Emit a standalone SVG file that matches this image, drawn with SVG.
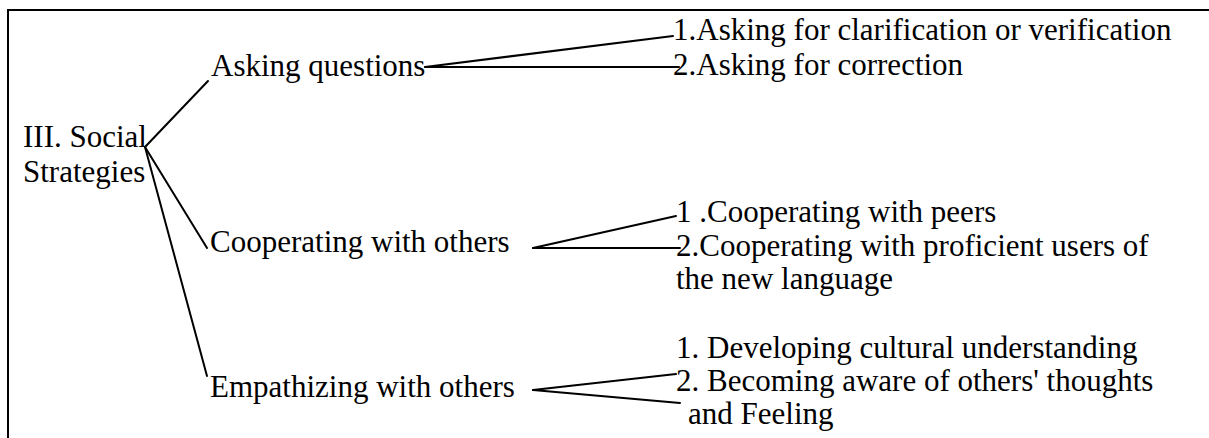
<svg xmlns="http://www.w3.org/2000/svg" width="1209" height="438" viewBox="0 0 1209 438">
  <style>
    text { font-family: 'Liberation Serif', 'Times New Roman', Times, serif; font-size: 31px; fill: #000; }
    .ln { stroke: #000; stroke-width: 2; fill: none; stroke-linecap: round; }
    .frame { stroke: #000; stroke-width: 2; fill: none; }
  </style>
  <rect width="1209" height="438" fill="#fff"/>

  <!-- frame: top and left edges -->
  <path class="frame" d="M8,438 V10 H1209"/>

  <g id="connectors">
    <!-- root to the three strategy groups -->
    <line class="ln" x1="145" y1="147" x2="208" y2="81"/>
    <line class="ln" x1="145" y1="147" x2="207" y2="248"/>
    <line class="ln" x1="145" y1="147" x2="207" y2="376"/>
    <!-- Asking questions -->
    <line class="ln" x1="425" y1="67" x2="673" y2="36"/>
    <line class="ln" x1="425" y1="67" x2="679" y2="67"/>
    <!-- Cooperating with others -->
    <line class="ln" x1="533" y1="248" x2="676" y2="216"/>
    <line class="ln" x1="533" y1="248" x2="680" y2="248"/>
    <!-- Empathizing with others -->
    <line class="ln" x1="533" y1="390" x2="676" y2="374"/>
    <line class="ln" x1="533" y1="390" x2="680" y2="403"/>
  </g>

  <g id="root">
    <text x="23" y="147">III. Social</text>
    <text x="23" y="182">Strategies</text>
  </g>

  <g id="asking">
    <text x="211" y="76">Asking questions</text>
  </g>
  <g id="asking-1">
    <text x="673" y="40">1.Asking for clarification or verification</text>
  </g>
  <g id="asking-2">
    <text x="673" y="75">2.Asking for correction</text>
  </g>

  <g id="cooperating">
    <text x="210" y="252">Cooperating with others</text>
  </g>
  <g id="cooperating-1">
    <text x="676" y="222">1 .Cooperating with peers</text>
  </g>
  <g id="cooperating-2">
    <text x="676" y="256">2.Cooperating with proficient users of</text>
    <text x="676" y="289">the new language</text>
  </g>

  <g id="empathizing">
    <text x="210" y="397">Empathizing with others</text>
  </g>
  <g id="empathizing-1">
    <text x="676" y="358">1. Developing cultural understanding</text>
  </g>
  <g id="empathizing-2">
    <text x="676" y="391">2. Becoming aware of others' thoughts</text>
    <text x="688" y="424">and Feeling</text>
  </g>
</svg>
